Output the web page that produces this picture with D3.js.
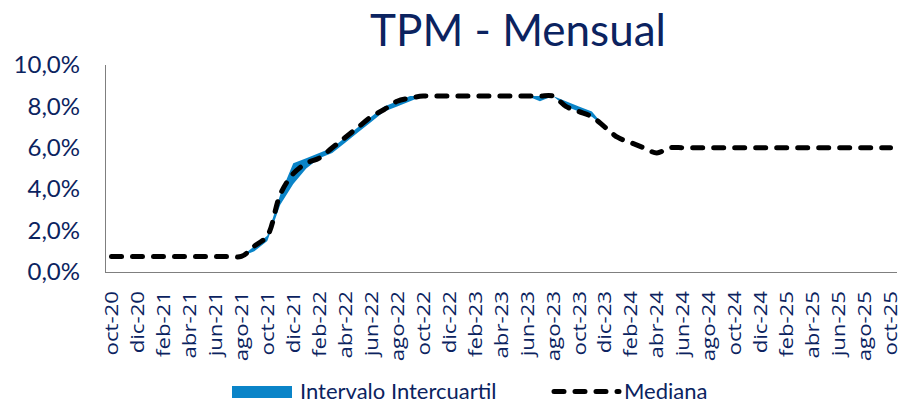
<!DOCTYPE html>
<html>
<head>
<meta charset="utf-8">
<script src="https://cdn.jsdelivr.net/npm/d3@7"></script>
<style>
	body { margin: 0; background: #fff; }
	text { fill: #0b2360; }
</style>
</head>
<body>
<div id="chart"></div>
<script>
// months on the x axis (oct-20 .. oct-25)
var months = [
	"oct-20", "nov-20", "dic-20", "ene-21", "feb-21", "mar-21", "abr-21", "may-21", "jun-21", "jul-21",
	"ago-21", "sep-21", "oct-21", "nov-21", "dic-21", "ene-22", "feb-22", "mar-22", "abr-22", "may-22",
	"jun-22", "jul-22", "ago-22", "sep-22", "oct-22", "nov-22", "dic-22", "ene-23", "feb-23", "mar-23",
	"abr-23", "may-23", "jun-23", "jul-23", "ago-23", "sep-23", "oct-23", "nov-23", "dic-23", "ene-24",
	"feb-24", "mar-24", "abr-24", "may-24", "jun-24", "jul-24", "ago-24", "sep-24", "oct-24", "nov-24",
	"dic-24", "ene-25", "feb-25", "mar-25", "abr-25", "may-25", "jun-25", "jul-25", "ago-25", "sep-25",
	"oct-25"
];

// median (%)
var mediana = [
	0.75, 0.75, 0.75, 0.75, 0.75, 0.75, 0.75, 0.75, 0.75, 0.75,
	0.75, 1.25, 1.75, 3.75, 4.75, 5.25, 5.5, 6.0, 6.5, 7.0,
	7.5, 7.85, 8.25, 8.4, 8.5, 8.5, 8.5, 8.5, 8.5, 8.5,
	8.5, 8.5, 8.5, 8.5, 8.5, 8.0, 7.75, 7.5, 7.0, 6.5,
	6.25, 6.0, 5.75, 6.0, 6.0, 6.0, 6.0, 6.0, 6.0, 6.0,
	6.0, 6.0, 6.0, 6.0, 6.0, 6.0, 6.0, 6.0, 6.0, 6.0,
	6.0
];

// first quartile (%)
var q1 = [
	0.75, 0.75, 0.75, 0.75, 0.75, 0.75, 0.75, 0.75, 0.75, 0.75,
	0.75, 1.0, 1.5, 3.25, 4.25, 5.0, 5.5, 5.75, 6.25, 6.75,
	7.25, 7.75, 8.0, 8.25, 8.5, 8.5, 8.5, 8.5, 8.5, 8.5,
	8.5, 8.5, 8.5, 8.25, 8.5, 8.0, 7.75, 7.5, 7.0, 6.5,
	6.25, 6.0, 5.75, 6.0, 6.0, 6.0, 6.0, 6.0, 6.0, 6.0,
	6.0, 6.0, 6.0, 6.0, 6.0, 6.0, 6.0, 6.0, 6.0, 6.0,
	6.0
];

// third quartile (%)
var q3 = [
	0.75, 0.75, 0.75, 0.75, 0.75, 0.75, 0.75, 0.75, 0.75, 0.75,
	0.75, 1.25, 1.75, 3.75, 5.25, 5.5, 5.75, 6.0, 6.5, 7.0,
	7.5, 8.0, 8.25, 8.5, 8.5, 8.5, 8.5, 8.5, 8.5, 8.5,
	8.5, 8.5, 8.5, 8.5, 8.5, 8.25, 8.0, 7.75, 7.0, 6.5,
	6.25, 6.0, 5.75, 6.0, 6.0, 6.0, 6.0, 6.0, 6.0, 6.0,
	6.0, 6.0, 6.0, 6.0, 6.0, 6.0, 6.0, 6.0, 6.0, 6.0,
	6.0
];

var yTicks = [0, 2, 4, 6, 8, 10];

var width = 902, height = 404;
var navy = "#0b2360", bandColor = "#0a84c8";

var svg = d3.select("#chart")
	.append("svg")
	.attr("width", width)
	.attr("height", height);

svg.append("rect").attr("width", width).attr("height", height).attr("fill", "#fff");

var x = d3.scalePoint()
	.domain(months)
	.range([105, 897])
	.padding(0.5);

var y = d3.scaleLinear()
	.domain([0, 10])
	.range([272, 65]);

var fmt = d => d.toFixed(1).replace(".", ",") + "%";

// title
svg.append("text")
	.attr("x", 518)
	.attr("y", 46)
	.attr("text-anchor", "middle")
	.style("font-family", "Lato")
	.style("font-size", "44px")
	.text("TPM - Mensual");

// y axis
var yAxis = svg.append("g")
	.attr("transform", "translate(105,0)")
	.call(d3.axisLeft(y).tickValues(yTicks).tickFormat(fmt).tickSize(0).tickPadding(25));
yAxis.select(".domain").attr("stroke", "#7f7f7f").attr("d", "M0.5," + y(10) + "V" + y(0));
yAxis.selectAll("text")
	.attr("fill", navy)
	.style("font-family", "Lato")
	.style("font-size", "24px");

// x axis
var xAxis = svg.append("g")
	.attr("transform", "translate(0," + y(0) + ")")
	.call(d3.axisBottom(x).tickValues(months.filter((m, i) => i % 2 == 0)).tickSize(0));
xAxis.select(".domain").attr("stroke", "#7f7f7f").attr("d", "M105,0.5H897");
xAxis.selectAll("text")
	.attr("fill", navy)
	.attr("y", 0)
	.attr("dy", "0.33em")
	.attr("transform", "translate(0,19) rotate(-90) scale(1.2,1)")
	.attr("text-anchor", "end")
	.style("font-family", "Open Sans")
	.style("font-size", "18.5px");

// interquartile band
var idx = d3.range(months.length);
svg.append("path")
	.datum(idx)
	.attr("fill", bandColor)
	.attr("d", d3.area()
		.x(i => x(months[i]))
		.y0(i => y(q1[i]))
		.y1(i => y(q3[i])));

// median
svg.append("path")
	.datum(idx)
	.attr("fill", "none")
	.attr("stroke", "#000")
	.attr("stroke-width", 5)
	.attr("stroke-linecap", "round")
	.attr("stroke-dasharray", "10,11")
	.attr("d", d3.line()
		.curve(d3.curveCatmullRom)
		.x(i => x(months[i]))
		.y(i => y(mediana[i])));

// legend
var legend = svg.append("g").style("font-family", "Lato").style("font-size", "22px");
legend.append("rect")
	.attr("x", 232).attr("y", 386).attr("width", 60).attr("height", 12)
	.attr("fill", bandColor);
legend.append("text").attr("x", 300).attr("y", 399).text("Intervalo Intercuartil");
legend.append("line")
	.attr("x1", 554).attr("x2", 619).attr("y1", 391.5).attr("y2", 391.5)
	.attr("stroke", "#000").attr("stroke-width", 5)
	.attr("stroke-linecap", "round").attr("stroke-dasharray", "10,11");
legend.append("text").attr("x", 624).attr("y", 399).text("Mediana");
</script>
</body>
</html>
